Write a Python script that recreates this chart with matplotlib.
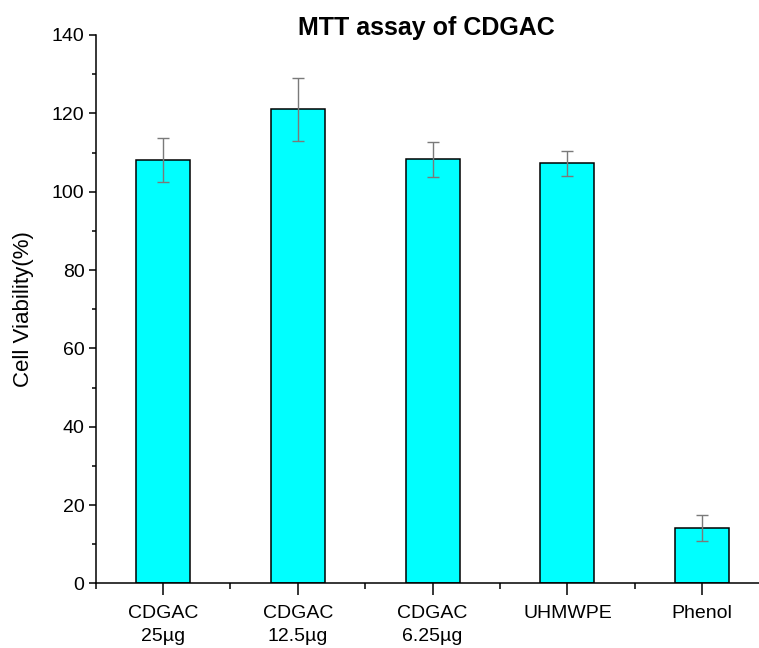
import numpy as np
import matplotlib
matplotlib.use("Agg")
import matplotlib.pyplot as plt
from matplotlib.ticker import MultipleLocator

# Data
groups = ["CDGAC\n25µg", "CDGAC\n12.5µg", "CDGAC\n6.25µg", "UHMWPE", "Phenol"]
viability = [108.1, 121.0, 108.3, 107.2, 14.1]
errors = [5.6, 8.0, 4.5, 3.3, 3.3]

plt.rcParams["font.family"] = ["Liberation Sans", "DejaVu Sans"]

fig = plt.figure(figsize=(7.59, 6.48), dpi=100)
ax = fig.add_axes([0.126, 0.0997, 0.888, 0.8463])

x = np.arange(len(groups))
ax.bar(x, viability, width=0.4, color="#00FFFF", edgecolor="black", linewidth=1.1,
       yerr=errors, error_kw=dict(ecolor="#7a7a7a", elinewidth=1.0, capsize=4, capthick=1.0))

ax.set_xlim(-0.5, 4.5)
ax.set_ylim(0, 140)
ax.set_xticks(x)
ax.set_xticklabels(groups, fontsize=14, linespacing=1.45)
ax.xaxis.set_minor_locator(MultipleLocator(1, offset=0.5))
ax.yaxis.set_major_locator(MultipleLocator(20))
ax.yaxis.set_minor_locator(MultipleLocator(10))
ax.tick_params(axis="y", which="major", length=5, width=1.1, labelsize=14, pad=3)
ax.tick_params(axis="y", which="minor", length=3, width=1.1)
ax.tick_params(axis="x", which="major", length=8.5, width=1.1, pad=7)
ax.tick_params(axis="x", which="minor", length=4.5, width=1.1)

ax.spines["top"].set_visible(False)
ax.spines["right"].set_visible(False)
ax.spines["left"].set_linewidth(1.1)
ax.spines["bottom"].set_linewidth(1.1)

ax.set_ylabel("Cell Viability(%)", fontsize=16, labelpad=13)
fig.text(426 / 759, 613 / 648, "MTT assay of CDGAC", fontsize=18, fontweight="bold",
         ha="center", va="baseline")

fig.savefig("out.png", dpi=100)
